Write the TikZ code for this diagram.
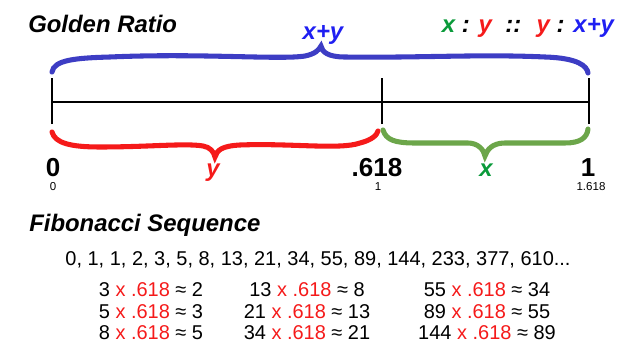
\documentclass[tikz,border=0pt]{standalone}
\usepackage{fontspec}
\setmainfont{Liberation Sans}
\usepackage{tikz}
\usetikzlibrary{positioning}
\definecolor{GRBlue}{HTML}{1F1FF2}
\definecolor{GRBraceBlue}{HTML}{3D3DC4}
\definecolor{GRRed}{HTML}{F51A1A}
\definecolor{GRGreen}{HTML}{0A9A3A}
\definecolor{GRBraceGreen}{HTML}{6CA64A}
\newcommand{\timesgold}{{\color{GRRed}x .618}}

\begin{document}
\begin{tikzpicture}[
  x=0.025cm,y=-0.025cm,
  title/.style={anchor=base west,inner sep=0pt,font=\fontsize{17}{19}\selectfont\bfseries\itshape},
  sym/.style={anchor=base,inner sep=0pt,font=\fontsize{17}{19}\selectfont\bfseries\itshape},
  mark num/.style={anchor=base,inner sep=0pt,font=\fontsize{18.5}{20}\selectfont\bfseries},
  small num/.style={anchor=base,inner sep=0pt,font=\fontsize{8.2}{9}\selectfont},
  fib/.style={anchor=base,inner sep=0pt,font=\fontsize{14.2}{16}\selectfont},
  brace/.style={line width=3.6pt,line cap=round},
  tick/.style={line width=1.1pt}
]
\useasboundingbox (0,0) rectangle (640,360);
% titles
\node[title] (golden) at (28,33) {Golden Ratio};
\node[title] (fibo) at (29,232) {Fibonacci Sequence};
\node[sym,text=GRBlue] (whole) at (323,40) {x+y};
\node[sym] (ratio) at (528,33) {\textcolor{GRGreen}{x} : \textcolor{GRRed}{y} \ :: \ \textcolor{GRRed}{y} : \textcolor{GRBlue}{x+y}};
% number line
\coordinate (p0) at (52,102);
\coordinate (p1) at (382,102);
\coordinate (p2) at (589,102);
\draw[tick] (p0) -- (p2);
\foreach \p in {p0,p1,p2}
  \draw[tick] ([yshift=-0.55cm]\p) -- ([yshift=0.6cm]\p);
% braces
\draw[brace,GRBraceBlue] (52,72) .. controls (54,60) and (75,58) .. (110,57)
  .. controls (200,53) and (280,60) .. (305,56) .. controls (315,54) and (319,50) .. (321,46)
  .. controls (322,52) and (328,57) .. (345,57) .. controls (420,58) and (480,54) .. (545,57)
  .. controls (578,58) and (587,66) .. (588,73);
\draw[brace,GRRed] (52,132) .. controls (55,143) and (70,147) .. (100,147)
  .. controls (150,147) and (185,143) .. (203,146) .. controls (210,147) and (214,152) .. (215,157)
  .. controls (217,150) and (222,146) .. (240,145) .. controls (290,143) and (340,150) .. (360,143)
  .. controls (372,140) and (377,135) .. (378,131);
\draw[brace,GRBraceGreen] (383,130) .. controls (386,140) and (395,143) .. (415,143) -- (468,143)
  .. controls (478,143) and (484,150) .. (485,156) .. controls (487,150) and (492,143) .. (505,143)
  -- (565,143) .. controls (580,143) and (587,138) .. (588,129);
% labels
\node[mark num] (zero) at (53,177) {0};
\node[small num] (zero s) at (53,191) {0};
\node[sym,text=GRRed] (ylab) at (213,177) {y};
\node[mark num] (mid) at (377,177) {.618};
\node[small num] (mid s) at (378,191) {1};
\node[sym,text=GRGreen] (xlab) at (486,177) {x};
\node[mark num] (one) at (588,177) {1};
\node[small num] (one s) at (591,191) {1.618};
% sequence
\node[fib] (seq) at (318,266) {0, 1, 1, 2, 3, 5, 8, 13, 21, 34, 55, 89, 144, 233, 377, 610...};
\foreach \n/\m/\px/\py [count=\k] in {3/2/151/297, 5/3/151/318.5, 8/5/151/340,
    13/8/307/297, 21/13/307/318.5, 34/21/307/340,
    55/34/487/297, 89/55/487/318.5, 144/89/487/340}
  \node[fib] (row\k) at (\px,\py) {\n\ \timesgold\ ≈ \m};
\end{tikzpicture}
\end{document}
